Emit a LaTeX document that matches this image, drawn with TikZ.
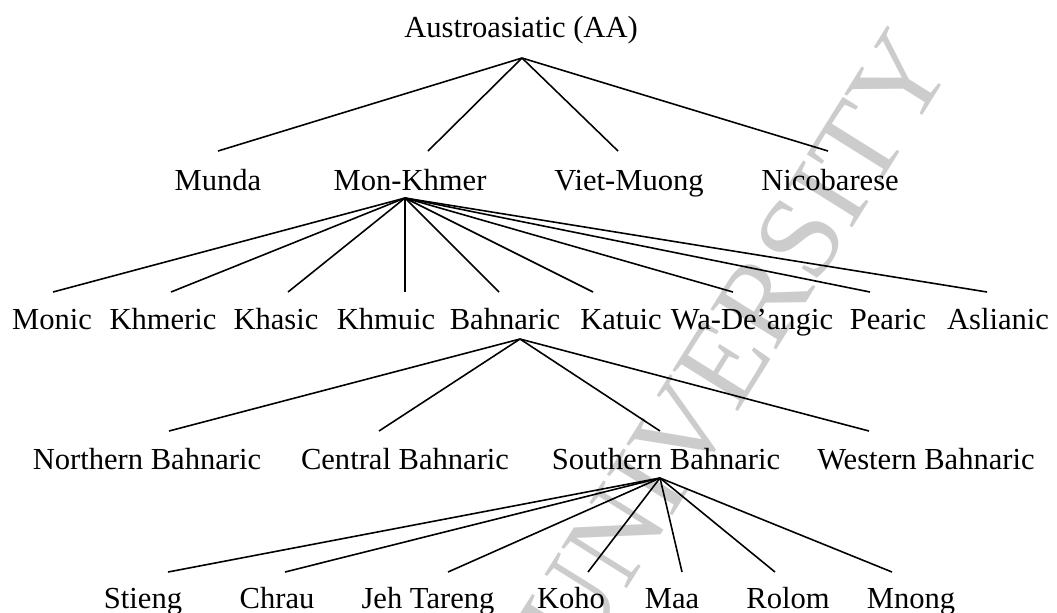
\documentclass[tikz,border=0pt]{standalone}
\usepackage{fontspec}
\setmainfont{Liberation Serif}

\tikzset{
  lang/.style={font=\fontsize{17.4}{20}\selectfont, inner sep=0pt, anchor=base},
  branch/.style={line width=0.9pt},
}

\begin{document}
\begin{tikzpicture}[x=0.2mm, y=-0.2mm]
    \useasboundingbox (0,0) rectangle (1057,612);
%    watermark
    \node[rotate=58, text=black!20, font=\fontsize{67}{67}\selectfont] (mark) at (735,344) {UNIVERSITY};

    \node[lang] (aa) at (521,37) {Austroasiatic (AA)};

    \node[lang] (munda) at (218,190) {Munda};
    \node[lang] (mk) at (410,190) {Mon-Khmer};
    \node[lang] (vm) at (629,190) {Viet-Muong};
    \node[lang] (nico) at (830,190) {Nicobarese};

    \node[lang] (monic) at (52,329) {Monic};
    \node[lang] (khmeric) at (163,329) {Khmeric};
    \node[lang] (khasic) at (276,329) {Khasic};
    \node[lang] (khmuic) at (386,329) {Khmuic};
    \node[lang] (bahn) at (505,329) {Bahnaric};
    \node[lang] (katuic) at (621,329) {Katuic};
    \node[lang] (wade) at (752,329) {Wa-De’angic};
    \node[lang] (pearic) at (888,329) {Pearic};
    \node[lang] (aslian) at (998,329) {Aslianic};

    \node[lang] (nbahn) at (147,469) {Northern Bahnaric};
    \node[lang] (cbahn) at (405,469) {Central Bahnaric};
    \node[lang] (sbahn) at (666,469) {Southern Bahnaric};
    \node[lang] (wbahn) at (926,469) {Western Bahnaric};

    \node[lang] (stieng) at (143,608) {Stieng};
    \node[lang] (chrau) at (277,608) {Chrau};
    \node[lang] (jeh) at (428,608) {Jeh Tareng};
    \node[lang] (koho) at (571,608) {Koho};
    \node[lang] (maa) at (672,608) {Maa};
    \node[lang] (rolom) at (788,608) {Rolom};
    \node[lang] (mnong) at (911,608) {Mnong};

%    branching points under the parents
    \coordinate (aa-root) at ([shift={(1,21)}]aa.base);
    \coordinate (mk-root) at ([shift={(-5,8)}]mk.base);
    \coordinate (bahn-root) at ([shift={(15,10)}]bahn.base);
    \coordinate (sbahn-root) at ([shift={(-6,9)}]sbahn.base);

    \foreach \child/\dx in {munda/0, mk/18, vm/-11, nico/-2}
      \draw[branch] (aa-root) -- ([shift={(\dx,-39)}]\child.base);
    \foreach \child/\dx in {monic/1, khmeric/8, khasic/12, khmuic/19, bahn/-6,
        katuic/-28, wade/-19, pearic/-18, aslian/-11}
      \draw[branch] (mk-root) -- ([shift={(\dx,-37)}]\child.base);
    \foreach \child/\dx in {nbahn/22, cbahn/-26, sbahn/-6, wbahn/-57}
      \draw[branch] (bahn-root) -- ([shift={(\dx,-38)}]\child.base);
    \foreach \child/\dx in {stieng/25, chrau/8, jeh/20, koho/17, maa/10,
        rolom/-13, mnong/-19}
      \draw[branch] (sbahn-root) -- ([shift={(\dx,-36)}]\child.base);
\end{tikzpicture}
\end{document}
